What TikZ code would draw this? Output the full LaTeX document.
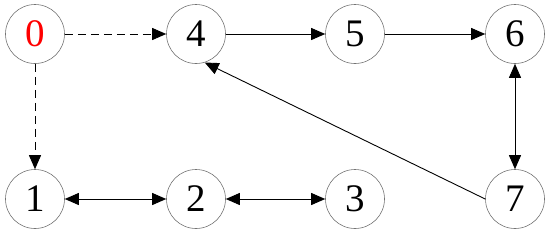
\documentclass[tikz,border=0pt]{standalone}
\usepackage{fontspec}
\setmainfont{Liberation Serif}
\usetikzlibrary{arrows.meta}
\tikzset{
  vertex/.style={circle, draw=black!55, line width=0.6pt, minimum size=59pt, inner sep=0pt, font=\fontsize{39}{42}\selectfont},
  arrow/.style={line width=0.9pt, -{Triangle[length=14pt,width=12pt]}},
  darrow/.style={line width=0.9pt, {Triangle[length=14pt,width=12pt]}-{Triangle[length=14pt,width=12pt]}},
  dasharrow/.style={arrow, dash pattern=on 8pt off 5pt}
}
\begin{document}
\begin{tikzpicture}[x=1pt,y=-1pt]
    \useasboundingbox (0,0) rectangle (550,234);

    % Nodos
    \node[vertex, text=red] (n0) at (35,34) {0};
    \node[vertex] (n4) at (196,34) {4};
    \node[vertex] (n5) at (355,34) {5};
    \node[vertex] (n6) at (515,34) {6};
    \node[vertex] (n1) at (35,199) {1};
    \node[vertex] (n2) at (196,199) {2};
    \node[vertex] (n3) at (355,199) {3};
    \node[vertex] (n7) at (515,199) {7};

    % Aristas
    \draw[dasharrow] (n0) -- (n4);
    \draw[dasharrow] (n0) -- (n1);
    \draw[arrow] (n4) -- (n5);
    \draw[arrow] (n5) -- (n6);
    \draw[darrow] (n6) -- (n7);
    \draw[darrow] (n1) -- (n2);
    \draw[darrow] (n2) -- (n3);
    \draw[arrow] (n7.west) -- (n4.-73);

\end{tikzpicture}
\end{document}
